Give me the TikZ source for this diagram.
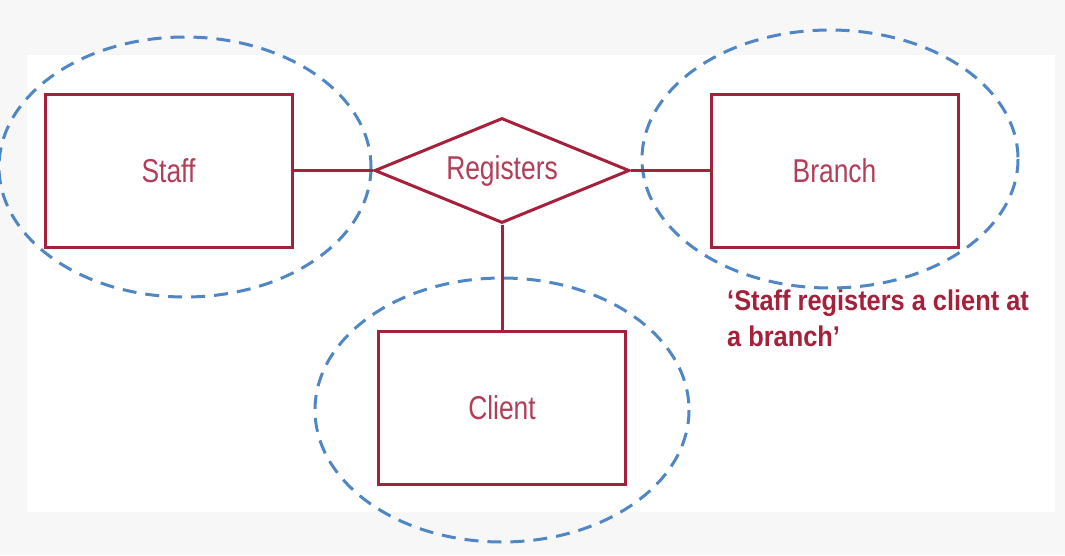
\documentclass[tikz,border=0pt]{standalone}
\usepackage{fontspec}
\setmainfont{Liberation Sans}
\newfontfamily\lblfont[FakeStretch=0.8]{Liberation Sans}
\newfontfamily\notefont[FakeStretch=0.89]{Liberation Sans}
\usetikzlibrary{shapes.geometric}
\definecolor{erred}{RGB}{165,32,58}
\definecolor{ertext}{RGB}{178,62,88}
\definecolor{erblue}{RGB}{80,134,196}
\definecolor{bggray}{RGB}{247,247,247}
\tikzset{
  entity/.style={draw=erred, line width=3pt, fill=white, rectangle, minimum width=247pt, minimum height=153pt, inner sep=0pt, text=ertext, font={\lblfont\fontsize{33}{36}\selectfont}},
  relship/.style={draw=erred, line width=3pt, fill=white, diamond, minimum width=255pt, minimum height=105pt, aspect=2.43, inner sep=0pt, text=ertext, font={\lblfont\fontsize{33}{36}\selectfont}},
  link/.style={draw=erred, line width=3pt},
  group/.style={draw=erblue, line width=3pt, dash pattern=on 14pt off 9pt},
  note/.style={text=erred, align=left, inner sep=0pt, font={\notefont\bfseries\fontsize{28.5}{36}\selectfont}}
}
\begin{document}
\begin{tikzpicture}[x=1pt,y=-1pt]
\useasboundingbox (0,0) rectangle (1065,555);
\fill[bggray] (0,0) rectangle (1065,555);
\fill[white] (27,55) rectangle (1055,512);
% grouping ellipses
\draw[group] (185,167) ellipse [x radius=186, y radius=130];
\draw[group] (830,159) ellipse [x radius=188, y radius=129];
\draw[group] (502,410) ellipse [x radius=187, y radius=132];
% entities
\node[entity] (staff) at (168.5,170.5) {\raisebox{-2pt}{Staff}};
\node[entity] (branch) at (834.5,170.5) {\raisebox{-2pt}{Branch}};
\node[entity] (client) at (502,407.5) {\raisebox{-2pt}{Client}};
\node[relship] (reg) at (502,170.5) {\raisebox{-2pt}{Registers}};
% connectors
\draw[link] (staff.east) -- (reg.west);
\draw[link] (reg.east) -- (branch.west);
\draw[link] (reg.south) -- (client.north);
% note
\node[note, anchor=north west] (note) at (727,290) {‘Staff registers a client at\\a branch’};
\end{tikzpicture}
\end{document}
